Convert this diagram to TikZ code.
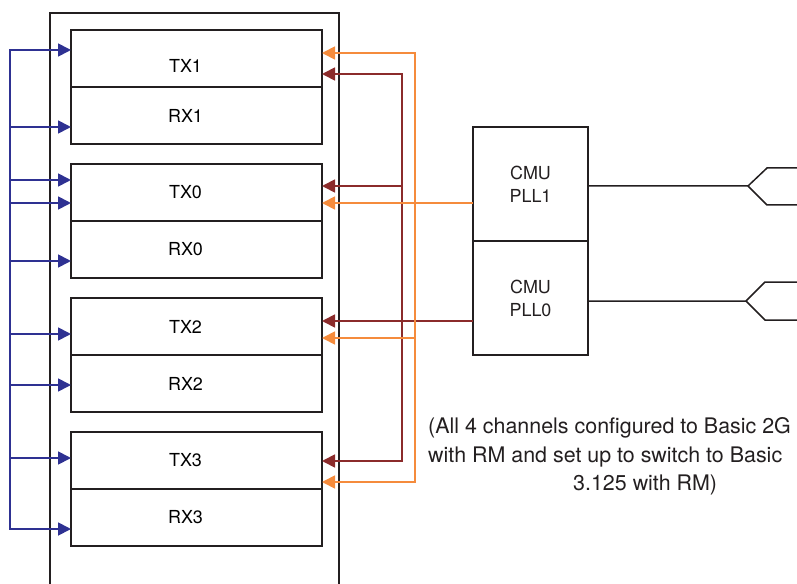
\documentclass[tikz,border=0pt]{standalone}
\usepackage{fontspec}
\setmainfont{TeX Gyre Heros}
\usetikzlibrary{arrows.meta, positioning}

\definecolor{ink}{HTML}{231F20}
\definecolor{clkblue}{HTML}{2E3192}
\definecolor{pllred}{HTML}{8B2B2B}
\definecolor{pllorange}{HTML}{F58B3C}

\begin{document}
\begin{tikzpicture}[
    x=1bp, y=-1bp,
    font=\fontsize{18}{23}\selectfont,
    >={Triangle[length=13bp, width=13bp]},
    chan/.style={rectangle, draw=ink, line width=1.8bp, minimum width=251bp, minimum height=57bp, inner sep=0pt, outer sep=0pt},
    pll/.style={rectangle, draw=ink, line width=1.8bp, minimum width=115bp, minimum height=114bp, align=center, inner sep=0pt, outer sep=0pt, text=ink},
    wire/.style={draw=ink, line width=1.5bp},
    bluearrow/.style={draw=clkblue, line width=1.8bp, ->},
    redarrow/.style={draw=pllred, line width=1.8bp, ->},
    orangearrow/.style={draw=pllorange, line width=1.8bp, ->},
    note/.style={align=left, inner sep=0pt, text=ink, font=\fontsize{21.5}{29}\selectfont}
]
\clip (0,0) rectangle (797,584);

% Transceiver block
\node[draw=ink, line width=1.8bp, minimum width=289bp, minimum height=620bp, inner sep=0pt, anchor=north west] (block) at (49,12) {};

% Channels
\node[chan, anchor=north west, label={[xshift=-11bp, yshift=-7bp]center:TX1}] (tx1) at (71,30) {};
\node[chan, below=0pt of tx1, label={[xshift=-11bp]center:RX1}] (rx1) {};
\node[chan, anchor=north west, label={[xshift=-11bp]center:TX0}] (tx0) at (71,164) {};
\node[chan, below=0pt of tx0, label={[xshift=-11bp]center:RX0}] (rx0) {};
\node[chan, anchor=north west, label={[xshift=-11bp]center:TX2}] (tx2) at (71,298) {};
\node[chan, below=0pt of tx2, label={[xshift=-11bp]center:RX2}] (rx2) {};
\node[chan, anchor=north west, label={[xshift=-11bp]center:TX3}] (tx3) at (71,432) {};
\node[chan, below=0pt of tx3, label={[xshift=-11bp]center:RX3}] (rx3) {};

% CMU PLLs
\node[pll, anchor=north west] (pll1) at (473,127) {CMU\\PLL1};
\node[pll, below=0pt of pll1] (pll0) {CMU\\PLL0};

% Reference clock pins
\coordinate (in1) at (748,186);
\coordinate (in0) at (746,301);
\draw[wire] (pll1.east |- in1) -- (in1) -- ++(19,-18) -- ++(40,0) (in1) -- ++(19,19) -- ++(40,0);
\draw[wire] (pll0.east |- in0) -- (in0) -- ++(19,-19) -- ++(40,0) (in0) -- ++(19,19) -- ++(40,0);

% Blue clock bus
\coordinate (b1) at (10,50);
\coordinate (b2) at (10,127);
\coordinate (b3) at (10,180);
\coordinate (b4) at (10,203);
\coordinate (b5) at (10,261);
\coordinate (b6) at (10,334);
\coordinate (b7) at (10,385);
\coordinate (b8) at (10,458);
\coordinate (b9) at (10,529);
\draw[bluearrow, <->] (tx1.west |- b1) -- (b1) -- (b9) -- (rx3.west |- b9);
\draw[bluearrow] (b2) -- (rx1.west |- b2);
\draw[bluearrow] (b3) -- (tx0.west |- b3);
\draw[bluearrow] (b4) -- (tx0.west |- b4);
\draw[bluearrow] (b5) -- (rx0.west |- b5);
\draw[bluearrow] (b6) -- (tx2.west |- b6);
\draw[bluearrow] (b7) -- (rx2.west |- b7);
\draw[bluearrow] (b8) -- (tx3.west |- b8);

% PLL0 lines
\coordinate (p0) at (pll0.west |- 0,321);
\coordinate (m1) at (402,74);
\coordinate (m2) at (402,186);
\coordinate (m4) at (402,461);
\draw[redarrow] (p0) -- (tx2.east |- p0);
\draw[redarrow, <->] (tx1.east |- m1) -- (m1) -- (m4) -- (tx3.east |- m4);
\draw[redarrow] (m2) -- (tx0.east |- m2);

% PLL1 lines
\coordinate (p1) at (pll1.west |- 0,203);
\coordinate (o1) at (415,53);
\coordinate (o3) at (415,338);
\coordinate (o4) at (415,482);
\draw[orangearrow] (p1) -- (tx0.east |- p1);
\draw[orangearrow, <->] (tx1.east |- o1) -- (o1) -- (o4) -- (tx3.east |- o4);
\draw[orangearrow] (o3) -- (tx2.east |- o3);

% Note
\node[note, anchor=north west] (remark) at (428,417) {(All 4 channels configured to Basic 2G\\with RM and set up to switch to Basic\\\hspace*{145bp}3.125 with RM)};

\end{tikzpicture}
\end{document}
